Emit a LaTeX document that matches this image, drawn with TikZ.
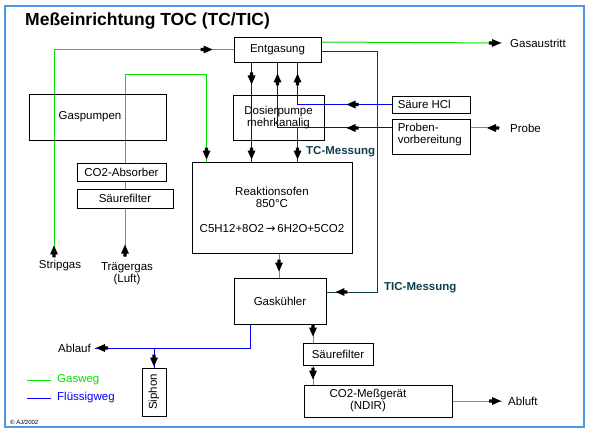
\documentclass[tikz,border=0pt]{standalone}
\usepackage{fontspec}
\setmainfont{Liberation Sans}
\newfontfamily\dejavu{DejaVu Sans}
\usetikzlibrary{decorations.markings,backgrounds,calc}
\definecolor{grn}{RGB}{0,225,0}
\definecolor{blu}{RGB}{0,0,255}
\definecolor{tea}{RGB}{15,60,80}
\definecolor{frm}{RGB}{80,150,230}
\tikzset{
  every node/.style={font=\fontsize{11.5}{12}\selectfont, inner sep=0pt},
  box/.style={draw=black, line width=0.9pt, fill=white, align=center},
  obox/.style={draw=black, line width=0.9pt, align=center},
  con/.style={line width=1pt},
  arr/.style={postaction={decorate,decoration={markings,
     mark=at position #1 with {\fill[black] (0pt,0pt)--(-9pt,-4pt)--(-9pt,-1.6pt)--(-12pt,-1.6pt)--(-12pt,1.6pt)--(-9pt,1.6pt)--(-9pt,4pt)--cycle;}}}},
  lbl/.style={font=\fontsize{11.5}{12}\selectfont\bfseries, text=tea},
}
\begin{document}
\begin{tikzpicture}[x=1pt,y=-1pt]
\useasboundingbox (0,0) rectangle (590,436);
\draw[frm, line width=1.6pt] (5,6) rectangle (584,427);
\node[anchor=west, font=\fontsize{17.5}{18}\selectfont\bfseries] (title) at (25,21) {Meßeinrichtung TOC (TC/TIC)};

% boxes
\node[box,minimum width=87pt,minimum height=25pt] (ent) at (277.5,49.5) {Entgasung};
\node[obox,minimum width=137pt,minimum height=46pt] (gasp) at (97.5,117) {};
\node (gasptxt) at (90,117) {Gaspumpen};
\node[obox,minimum width=91pt,minimum height=45pt] (dos) at (278.5,117.5) {Dosierpumpe\\mehrkanalig};
\node[box,minimum width=78pt,minimum height=17pt] (hcl) at (431,104.5) {};
\node[anchor=west] (hcltxt) at ([xshift=6pt]hcl.west) {Säure HCl};
\node[box,minimum width=78pt,minimum height=35pt] (prob) at (431,136.5) {};
\node[anchor=west,align=left] (probtxt) at ([xshift=6pt,yshift=2pt]prob.west) {Proben-\\vorbereitung};
\node[box,minimum width=89pt,minimum height=18pt] (co2a) at (121.5,172) {CO2-Absorber};
\node[box,minimum width=96pt,minimum height=19pt] (sf1) at (125,198.5) {Säurefilter};
\node[box,minimum width=160pt,minimum height=91pt] (ofen) at (272,207.5) {};
\node[align=center] (ofentxt) at (272,210) {Reaktionsofen\\850°C\\[13pt]C5H12+8O2{\dejavu\,→\,}6H2O+5CO2};
\node[box,minimum width=92pt,minimum height=46pt] (kuehl) at (280,301) {Gaskühler};
\node[box,minimum width=24pt,minimum height=48pt] (siph) at (154,392) {};
\node[rotate=90] (siphtxt) at (siph.center) {Siphon};
\node[box,minimum width=70pt,minimum height=22pt] (sf2) at (338,354) {Säurefilter};
\node[box,minimum width=148pt,minimum height=32pt] (ndir) at (378,401) {};
\node[align=center] (ndirtxt) at (368,401) {CO2-Meßgerät\\(NDIR)};

% free texts
\node[anchor=west] (gasaus) at (510,43) {Gasaustritt};
\node[anchor=west] (probe) at (510,128) {Probe};
\node (strip) at (60,266) {Stripgas};
\node[align=center] (traeger) at (127,274) {Trägergas\\(Luft)};
\node[anchor=east] (ablauf) at (91,348) {Ablauf};
\node[anchor=west] (abluft) at (508,401) {Abluft};
\node[lbl, anchor=west] (tc) at (306,152) {TC-Messung};
\node[lbl, anchor=west] (tic) at (384,288) {TIC-Messung};
\node[anchor=west, text=grn] (lg) at (57,380) {Gasweg};
\node[anchor=west, text=blu] (lb) at (57,398) {Flüssigweg};
\node[anchor=west, font=\fontsize{6}{7}\selectfont] (copy) at (10,422) {© AJ/2002};

% helper coordinates
\coordinate (e1) at ([xshift=18pt]ent.south west);
\coordinate (e2) at ([xshift=44pt]ent.south west);
\coordinate (e3) at ([xshift=64pt]ent.south west);
\coordinate (pin) at ([yshift=8.5pt]prob.west);
\coordinate (tcj) at (pin -| e3);
\coordinate (oin) at ([xshift=15pt]ofen.north west);
\coordinate (sstart) at ([xshift=-6pt,yshift=3pt]strip.north);
\coordinate (tstart) at ([xshift=-2pt,yshift=6pt]traeger.north);
\coordinate (tbend) at (125,75);
\coordinate (ee) at ([yshift=-2.5pt]ent.east);
\coordinate (eg) at ([yshift=7.5pt]ent.east);
\coordinate (kin) at ([yshift=9pt]kuehl.east);
\coordinate (ticc) at (377,292);
\coordinate (ks) at ([xshift=-30pt]kuehl.south);
\coordinate (aend) at ([xshift=4pt]ablauf.east);
\coordinate (sj) at (aend -| siph.north);
\coordinate (os) at ([xshift=7pt]ofen.south);
\coordinate (s2n) at ([xshift=-25pt]sf2.north);
\coordinate (s2s) at ([xshift=-25pt]sf2.south);
\coordinate (pst) at ([xshift=-10pt]probe.west);
\coordinate (pe) at ([yshift=8.5pt]prob.east);

\begin{pgfonlayer}{background}
% gas paths
\draw[con,grn,arr=-1pt] (eg) -- ([xshift=-8pt]gasaus.west);
\draw[con,grn,arr=12pt,arr=-21pt] (sstart) -- (sstart |- ent.west) -- (ent.west);
\draw[con,grn,arr=12pt,arr=-2pt] (tstart) -- (tstart |- tbend) -- (tbend -| oin) -- (oin);
\draw[con,grn,arr=13pt] (pst) -- (pe);
\draw[con,grn,arr=-6pt] (os) -- (os |- kuehl.north);
\draw[con,grn,arr=-6pt] (s2n |- kuehl.south) -- (s2n);
\draw[con,grn,arr=-5pt] (s2s) -- (s2s |- ndir.north);
\draw[con,grn,arr=-1pt] (ndir.east) -- ([xshift=-6pt]abluft.west);
% liquid paths
\draw[con,blu,arr=22pt,arr=-2pt] (e1) -- (e1 |- ofen.north);
\draw[con,blu,arr=45pt,arr=-11pt] (pin) -- (pin -| e2) -- (e2);
\draw[con,blu,arr=45pt,arr=-11pt] (hcl.west) -- (hcl.west -| e3) -- (e3);
\draw[con,blu,arr=-1pt] (ks) -- (ks |- aend) -- (aend);
\draw[con,blu,arr=-1pt] (sj) -- (siph.north);
% measuring paths
\draw[con,tea,arr=-2pt] (tcj) -- (tcj |- ofen.north);
\draw[con,tea,arr=-9pt] (ee) -- (ee -| ticc) -- (ticc) -- (kin);
% legend
\draw[con,grn] ([xshift=-6pt]lg.west) -- ++(-24,0);
\draw[con,blu] ([xshift=-6pt]lb.west) -- ++(-24,0);
\end{pgfonlayer}
\end{tikzpicture}
\end{document}
